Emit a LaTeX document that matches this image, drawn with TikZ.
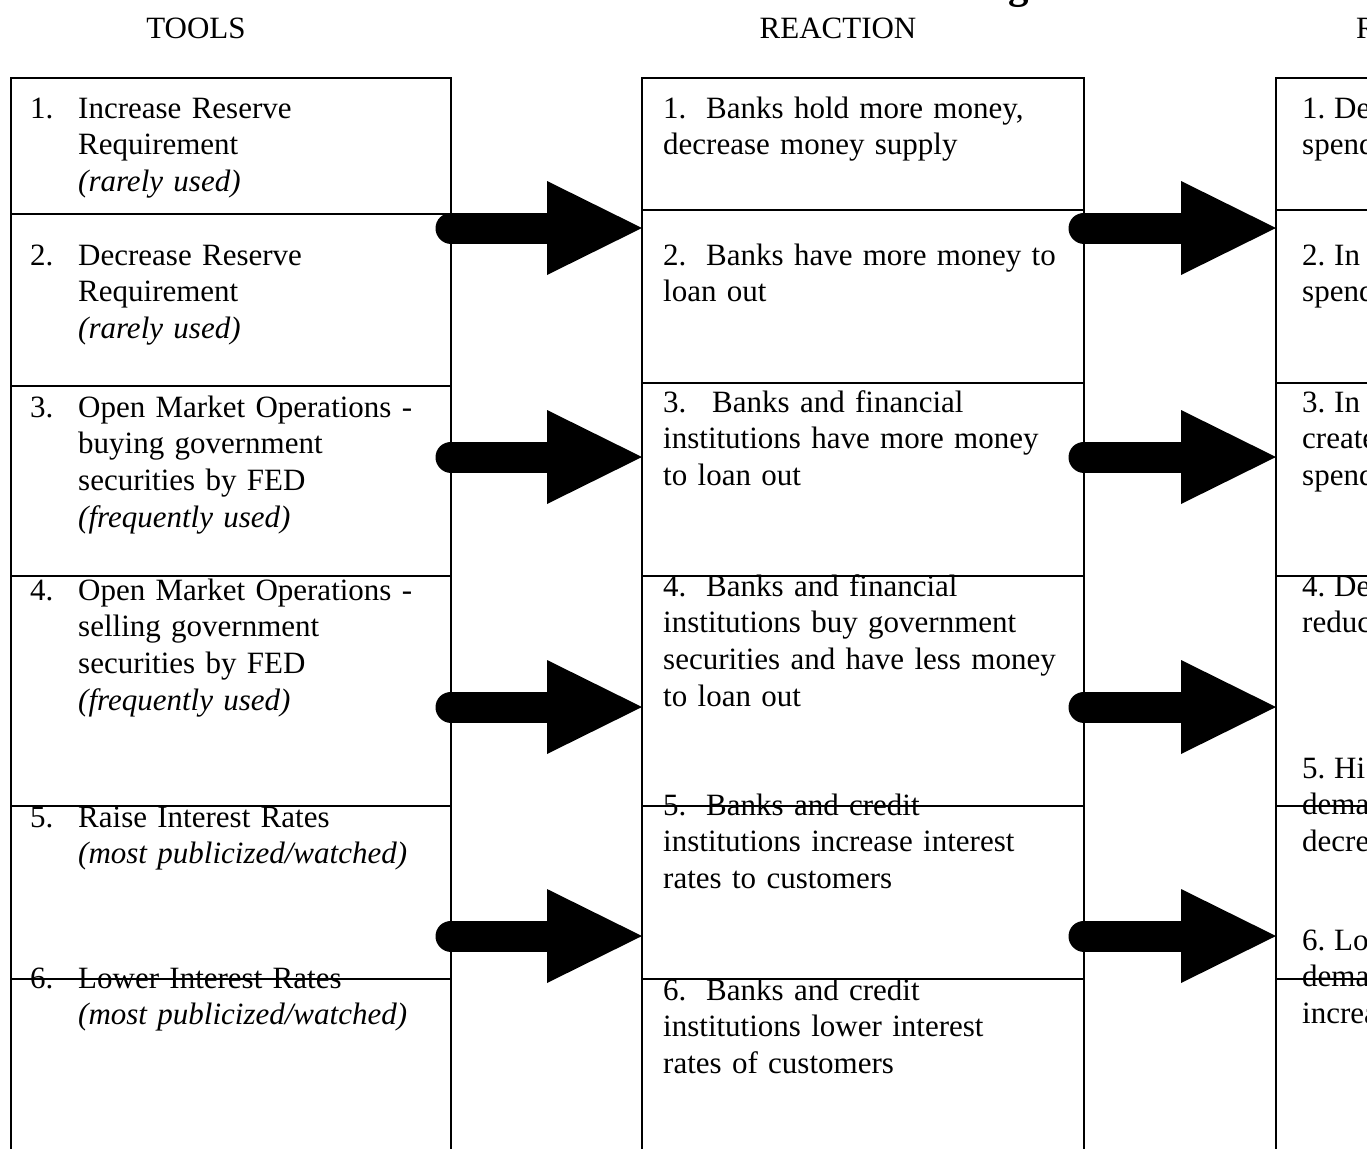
\documentclass[tikz,border=0pt]{standalone}
\usepackage{fontspec}
\setmainfont{Liberation Serif}
\tikzset{
  colbox/.style={draw, line width=1.8pt, anchor=north west, inner sep=0pt, outer sep=0pt, minimum width=442pt, minimum height=1100pt},
  rule/.style={line width=1.8pt},
  cell/.style={anchor=base west, inner sep=0pt, text width=430pt, align=left, font=\fontsize{31}{36.7}\selectfont},
  head/.style={anchor=base, inner sep=0pt, font=\fontsize{31}{36.7}\selectfont},
  shaft/.style={line width=31pt, line cap=round},
}
\begin{document}
\begin{tikzpicture}[x=1pt,y=-1pt]
  \useasboundingbox (0,0) rectangle (1367,1148);
  \clip (0,0) rectangle (1367,1148);
  % title and column heads
  \node[head, font=\fontsize{41}{48}\selectfont\bfseries] (title) at (1019,-1) {g};
  \node[head] (toolhead) at (196,38) {TOOLS};
  \node[head] (reacthead) at (838,38) {REACTION};
  \node[head, anchor=base west] (reshead) at (1356,38) {R};
  % columns
  \node[colbox, minimum width=440pt] (toolcol) at (11,78) {};
  \node[colbox] (reactcol) at (642,78) {};
  \node[colbox] (rescol) at (1276,78) {};
  \foreach \y in {214,386,576,806,979}
    \draw[rule] (toolcol.west |- 0,\y) -- (toolcol.east |- 0,\y);
  \foreach \y in {210,383,576,806,979} {
    \draw[rule] (reactcol.west |- 0,\y) -- (reactcol.east |- 0,\y);
    \draw[rule] (rescol.west |- 0,\y) -- (rescol.east |- 0,\y);
  }
  % tools
  \node[cell] (t1no) at (30,118) {1.};
  \node[cell] (t1) at (78,118) {Increase Reserve\\Requirement\\\textit{(rarely used)}};
  \node[cell] (t2no) at (30,265) {2.};
  \node[cell] (t2) at (78,265) {Decrease Reserve\\Requirement\\\textit{(rarely used)}};
  \node[cell] (t3no) at (30,417) {3.};
  \node[cell] (t3) at (78,417) {Open Market Operations -\\buying government\\securities by FED\\\textit{(frequently used)}};
  \node[cell] (t4no) at (30,600) {4.};
  \node[cell] (t4) at (78,600) {Open Market Operations -\\selling government\\securities by FED\\\textit{(frequently used)}};
  \node[cell] (t5no) at (30,827) {5.};
  \node[cell] (t5) at (78,827) {Raise Interest Rates\\\textit{(most publicized/watched)}};
  \node[cell] (t6no) at (30,988) {6.};
  \node[cell] (t6) at (78,988) {Lower Interest Rates\\\textit{(most publicized/watched)}};
  % reaction
  \node[cell] (r1) at (663,118) {\makebox[43pt][l]{1.}Banks hold more money,\\decrease money supply};
  \node[cell] (r2) at (663,265) {\makebox[43pt][l]{2.}Banks have more money to\\loan out};
  \node[cell] (r3) at (663,412) {\makebox[49pt][l]{3.}Banks and financial\\institutions have more money\\to loan out};
  \node[cell] (r4) at (663,596) {\makebox[43pt][l]{4.}Banks and financial\\institutions buy government\\securities and have less money\\to loan out};
  \node[cell] (r5) at (663,815) {\makebox[43pt][l]{5.}Banks and credit\\institutions increase interest\\rates to customers};
  \node[cell] (r6) at (663,1000) {\makebox[43pt][l]{6.}Banks and credit\\institutions lower interest\\rates of customers};
  % results (cut off at the edge)
  \node[cell] (e1) at (1302,118) {\makebox[32pt][l]{1.}De\\spend};
  \node[cell] (e2) at (1302,265) {\makebox[32pt][l]{2.}In\\spend};
  \node[cell] (e3) at (1302,412) {\makebox[32pt][l]{3.}In\\create\\spend};
  \node[cell] (e4) at (1302,596) {\makebox[32pt][l]{4.}De\\reduc};
  \node[cell] (e5) at (1302,778) {\makebox[32pt][l]{5.}Hi\\dema\\decre};
  \node[cell] (e6) at (1302,950) {\makebox[32pt][l]{6.}Lo\\dema\\increa};
  % block arrows
  \foreach \y in {228,457,707,936} {
    \draw[shaft] (toolcol.east |- 0,\y) -- ++(97,0);
    \fill (reactcol.west |- 0,\y) -- ++(-95,-47) -- ++(0,94) -- cycle;
    \draw[shaft] (reactcol.east |- 0,\y) -- ++(97,0);
    \fill (rescol.west |- 0,\y) -- ++(-95,-47) -- ++(0,94) -- cycle;
  }
\end{tikzpicture}
\end{document}
